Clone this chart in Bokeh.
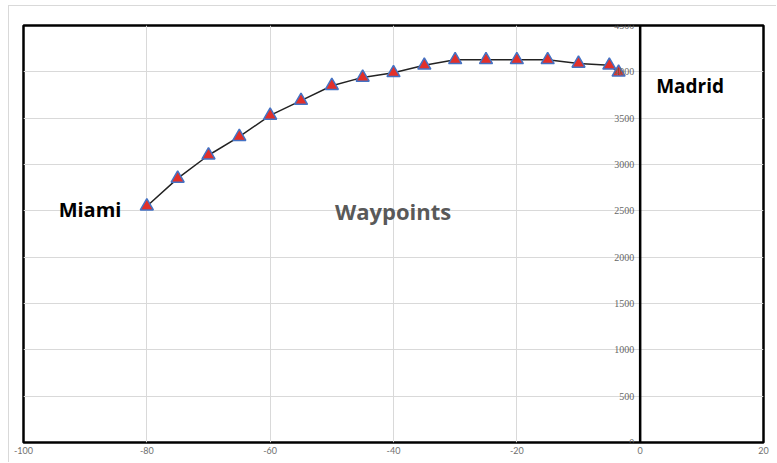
from bokeh.plotting import figure
from bokeh.models import FixedTicker, Span, Label, LabelSet, ColumnDataSource
from bokeh.embed import file_html
from bokeh.resources import INLINE

# Waypoints (longitude, value)
lon = [-80, -75, -70, -65, -60, -55, -50, -45, -40, -35, -30, -25, -20, -15, -10, -5, -3.5]
alt = [2550, 2850, 3100, 3300, 3530, 3690, 3850, 3940, 3990, 4070, 4130, 4130, 4130, 4130, 4090, 4070, 3995]

x_ticks = [-100, -80, -60, -40, -20, 0, 20]
x_tick_labels = ["-100", "-80", "-60", "-40", "-20", "0", "20"]
y_ticks = [0, 500, 1000, 1500, 2000, 2500, 3000, 3500, 4000, 4500]
y_tick_labels = ["0", "500", "1000", "1500", "2000", "2500", "3000", "3500", "4000", "4500"]

# figure is offset by 8px/5px with a light border (outer chart border)
p = figure(width=768, height=457, x_range=(-100, 20), y_range=(0, 4500),
           output_backend="svg", toolbar_location=None,
           min_border_left=14, min_border_right=14, min_border_top=19, min_border_bottom=21)
p.styles = {"border-left": "1px solid #d9d9d9", "border-top": "1px solid #d9d9d9",
            "margin-left": "8px", "margin-top": "5px"}
p.background_fill_color = "white"
p.border_fill_color = "white"
p.outline_line_color = "black"
p.outline_line_width = 2.5

# x axis labels below
p.xaxis.ticker = FixedTicker(ticks=x_ticks)
p.xaxis.major_label_overrides = {t: l for t, l in zip(x_ticks, x_tick_labels)}
p.xaxis.axis_line_color = None
p.xaxis.major_tick_line_color = None
p.xaxis.minor_tick_line_color = None
p.xaxis.major_tick_out = 0
p.xaxis.major_tick_in = 0
p.xaxis.major_label_standoff = 4
p.xaxis.major_label_text_font = "Lato"
p.xaxis.major_label_text_font_size = "9px"
p.xaxis.major_label_text_color = "#6f6f6f"

p.yaxis.visible = False

p.xgrid.ticker = FixedTicker(ticks=[t for t in x_ticks if -100 < t < 0])
p.ygrid.ticker = FixedTicker(ticks=[t for t in y_ticks if 0 < t < 4500])
p.xgrid.grid_line_color = "#d9d9d9"
p.ygrid.grid_line_color = "#d9d9d9"

# y axis tick labels along x = 0
src_y = ColumnDataSource(dict(x=[0] * len(y_ticks), y=y_ticks, t=y_tick_labels))
p.add_layout(LabelSet(x="x", y="y", text="t", source=src_y, x_offset=-6, text_align="right",
                      text_baseline="middle", text_font="Lato", text_font_size="10px",
                      text_color="#666666"))

# vertical axis at x = 0
p.add_layout(Span(location=0, dimension="height", line_color="black", line_width=2.5))

# route
p.line(lon, alt, line_color="#222222", line_width=1.5)
p.scatter(lon, alt, marker="triangle", size=13, fill_color="#e2302a",
          line_color="#4472c4", line_width=1.5)

# annotations
p.add_layout(Label(x=-94.3, y=2510, text="Miami", text_font="Open Sans", text_font_style="bold",
                   text_font_size="20px", text_color="black", text_baseline="middle"))
p.add_layout(Label(x=-49.5, y=2500, text="Waypoints", text_font="Open Sans", text_font_style="bold",
                   text_font_size="22px", text_color="#595959", text_baseline="middle"))
p.add_layout(Label(x=2.6, y=3850, text="Madrid", text_font="Open Sans", text_font_style="bold",
                   text_font_size="19px", text_color="black", text_baseline="middle"))

open("out.html", "w").write(file_html(p, INLINE))
